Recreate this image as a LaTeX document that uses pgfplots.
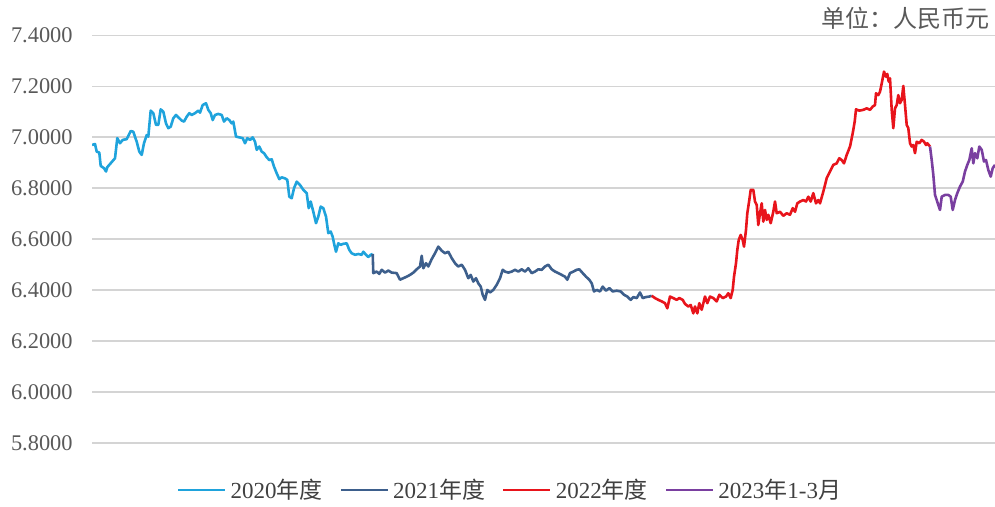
\documentclass[border=0pt]{standalone}
\usepackage{pgfplots}
\pgfplotsset{compat=1.18}
\usepackage{fontspec}
\setmainfont{Liberation Serif}
\newfontfamily\cjk{Noto Sans CJK SC}
\definecolor{cA}{HTML}{1FA3DC}
\definecolor{cB}{HTML}{3D5F8C}
\definecolor{cC}{HTML}{E8141B}
\definecolor{cD}{HTML}{7A3FA0}
\definecolor{tickgray}{HTML}{595959}
\definecolor{leggray}{HTML}{404040}
\begin{document}
\begin{tikzpicture}
\begin{axis}[
  at={(46pt,32pt)}, anchor=south west,
  scale only axis, width=451.5pt, height=203.75pt,
  xmin=92, xmax=995, ymin=5.8, ymax=7.4,
  xtick=\empty,
  ytick={5.8,6.0,6.2,6.4,6.6,6.8,7.0,7.2,7.4},
  ymajorgrids, grid style={draw=black!17, line width=0.9pt},
  axis line style={draw=none},
  major tick length=0pt, tick style={draw=none},
  /pgf/number format/assume math mode=true,
  yticklabel={\pgfmathprintnumber[fixed,fixed zerofill,precision=4]{\tick}},
  yticklabel style={font=\fontsize{11.2}{13}\selectfont, text=tickgray, inner sep=0pt, anchor=east, xshift=-9.5pt},
  legend columns=4,
  legend style={at={(0.464,-0.1153)}, anchor=center, draw=none, fill=none,
    font=\fontsize{11.5}{13}\selectfont, text=leggray, inner sep=0pt,
    /tikz/every even column/.append style={column sep=6.5pt}},
  legend image code/.code={\draw[#1, line width=1.3pt] (0pt,0pt) -- (23.5pt,0pt);},
  every axis plot/.append style={line width=1.3pt, line join=round},
]
\addplot[cA] coordinates {(92,6.970)(95,6.974)(96.7,6.944)(99.3,6.940)(100.7,6.888)(104,6.879)(106,6.866)(107.3,6.883)(115,6.918)(117.3,6.997)(120,6.977)(122.7,6.990)(126.7,6.993)(130.7,7.025)(133.3,7.022)(136.7,6.983)(139.3,6.944)(141.7,6.931)(144,6.977)(146.7,7.009)(148.3,7.003)(150.7,7.105)(153.3,7.095)(156,7.049)(158.3,7.049)(160.7,7.110)(163.3,7.101)(166,7.055)(168.3,7.036)(170.7,7.042)(173.3,7.075)(176,7.088)(178.3,7.079)(181.7,7.066)(184,7.062)(186.7,7.081)(189.3,7.095)(191.7,7.088)(195,7.095)(198.3,7.105)(200,7.097)(202.7,7.127)(206,7.134)(208.3,7.108)(210.7,7.095)(212.7,7.068)(215,7.088)(218.3,7.092)(221.7,7.088)(224,7.062)(226.7,7.075)(229.3,7.068)(231.7,7.055)(233.3,7.062)(236,7.003)(239.3,7.000)(242.7,6.997)(245,6.977)(247.3,6.997)(250,6.990)(252.7,7.000)(255,6.983)(256.7,6.951)(259.3,6.964)(261.7,6.944)(264,6.938)(266.7,6.922)(269.3,6.911)(271.7,6.914)(274,6.885)(276.7,6.859)(279.3,6.836)(281.7,6.843)(285,6.839)(287.3,6.833)(289.3,6.767)(291.7,6.761)(294,6.800)(296.7,6.826)(300,6.813)(303.3,6.794)(306.7,6.781)(308.7,6.722)(310.7,6.748)(313.3,6.708)(316,6.663)(318.3,6.689)(320.7,6.728)(323.3,6.722)(326,6.689)(328.3,6.624)(330.7,6.630)(332.7,6.610)(334,6.584)(336,6.551)(338.3,6.584)(340.7,6.578)(343.3,6.582)(346.7,6.584)(349.3,6.558)(351.7,6.545)(355,6.539)(358.3,6.542)(361.7,6.539)(363.3,6.551)(366,6.539)(368.3,6.530)(370.7,6.539)(372.7,6.542)};
\addlegendentry{2020{\cjk 年度}}
\addplot[cB] coordinates {(372.7,6.542)(373.3,6.467)(376.7,6.473)(379.3,6.464)(381.7,6.480)(385,6.469)(388.3,6.477)(391.7,6.469)(396.7,6.467)(400,6.441)(403.3,6.447)(406.7,6.453)(410,6.460)(413.3,6.469)(416.7,6.482)(420,6.493)(421.7,6.535)(423.3,6.486)(426,6.506)(428.3,6.493)(431.7,6.522)(435,6.545)(438.3,6.571)(441.7,6.555)(445,6.545)(448.3,6.551)(451.7,6.526)(455,6.506)(458.3,6.493)(461.7,6.500)(465,6.480)(468.3,6.447)(470.7,6.460)(473.3,6.434)(476,6.447)(478.3,6.427)(480.7,6.414)(482.7,6.382)(485,6.362)(487.3,6.401)(490,6.391)(493.3,6.401)(496.7,6.421)(500,6.447)(502.7,6.480)(505,6.473)(508.3,6.469)(511.7,6.473)(515,6.480)(518.3,6.473)(521.7,6.482)(525,6.473)(528.3,6.486)(531.7,6.467)(535,6.473)(538.3,6.482)(541.7,6.480)(545,6.493)(548.3,6.500)(551.7,6.482)(555,6.473)(558.3,6.467)(561.7,6.460)(565,6.453)(567.3,6.441)(570,6.467)(573.3,6.473)(576.7,6.480)(579.3,6.482)(582.7,6.467)(586,6.453)(589.3,6.441)(591.7,6.427)(594,6.395)(596.7,6.401)(600,6.395)(602.7,6.414)(606,6.398)(609.3,6.408)(612.7,6.395)(616.7,6.398)(620.7,6.395)(624,6.382)(627.3,6.375)(630.7,6.362)(633.3,6.373)(636.7,6.369)(640,6.391)(642.7,6.369)(646,6.373)(649.3,6.375)(651.7,6.378)};
\addlegendentry{2021{\cjk 年度}}
\addplot[cC] coordinates {(651.7,6.378)(655,6.369)(658.3,6.362)(661.7,6.356)(665,6.349)(667.3,6.329)(670,6.375)(673.3,6.369)(676.7,6.362)(679.3,6.369)(682.7,6.362)(685,6.346)(688.3,6.336)(690.7,6.342)(693.3,6.309)(695,6.336)(697.3,6.309)(699.3,6.349)(701.7,6.323)(705,6.375)(707.3,6.349)(710,6.375)(713.3,6.369)(716.7,6.356)(719.3,6.382)(722.7,6.369)(726,6.375)(728.3,6.388)(730.7,6.369)(732.7,6.401)(734,6.453)(736,6.506)(737.3,6.558)(738.7,6.597)(740.7,6.617)(742.7,6.597)(744,6.571)(746,6.637)(747.3,6.702)(749.3,6.754)(750.7,6.794)(753.3,6.794)(755,6.748)(756.7,6.735)(758.3,6.656)(760,6.702)(761.7,6.741)(763.3,6.669)(765,6.715)(766.7,6.676)(768.3,6.696)(770.7,6.663)(773.3,6.708)(775,6.748)(776.7,6.702)(780,6.708)(783.3,6.692)(786.7,6.702)(790,6.696)(792.7,6.722)(795,6.708)(797.3,6.741)(800,6.748)(803.3,6.754)(806,6.748)(808.3,6.767)(810.7,6.748)(813.3,6.781)(816,6.741)(818.3,6.754)(820,6.741)(823.3,6.787)(826.7,6.840)(830,6.866)(833.3,6.892)(836.7,6.898)(839.3,6.918)(841.7,6.911)(844,6.898)(846.7,6.931)(850,6.964)(852.7,7.016)(854.7,7.062)(856,7.110)(859.3,7.105)(863.3,7.108)(866.7,7.114)(870,7.108)(872.7,7.121)(875,7.127)(876,7.173)(878.3,7.166)(880,7.179)(881.7,7.212)(884,7.258)(886,7.238)(887.3,7.249)(888.7,7.219)(890,7.232)(891.7,7.108)(893.3,7.036)(895,7.114)(896.7,7.127)(898.3,7.166)(900,7.134)(901.7,7.147)(903.3,7.202)(905,7.127)(906.7,7.049)(908.3,7.036)(910,6.977)(911.7,6.964)(913.3,6.970)(915,6.938)(916.7,6.983)(919.3,6.977)(921.7,6.990)(924,6.983)(926,6.970)(927.3,6.977)(930,6.964)};
\addlegendentry{2022{\cjk 年度}}
\addplot[cD] coordinates {(930,6.964)(931.7,6.911)(933.3,6.853)(935,6.774)(936.7,6.754)(938.3,6.735)(940,6.715)(941.7,6.767)(945,6.774)(948.3,6.774)(950.7,6.767)(952.7,6.715)(955,6.754)(957.3,6.781)(960,6.807)(962.7,6.826)(965,6.866)(967.3,6.892)(969.3,6.911)(971.7,6.957)(973.3,6.898)(975,6.938)(977.3,6.918)(979.3,6.964)(981.7,6.951)(984,6.905)(986,6.911)(988.3,6.872)(990.7,6.846)(992.7,6.879)(995,6.892)};
\addlegendentry{2023{\cjk 年}1-3{\cjk 月}}
\end{axis}
\node[anchor=east, inner sep=0pt, text=tickgray, font=\cjk\fontsize{12}{14}\selectfont] at (495pt,244.5pt) {单位：人民币元};
\pgfresetboundingbox
\path[use as bounding box] (0,0) rectangle (497.5pt,253.5pt);
\end{tikzpicture}
\end{document}
